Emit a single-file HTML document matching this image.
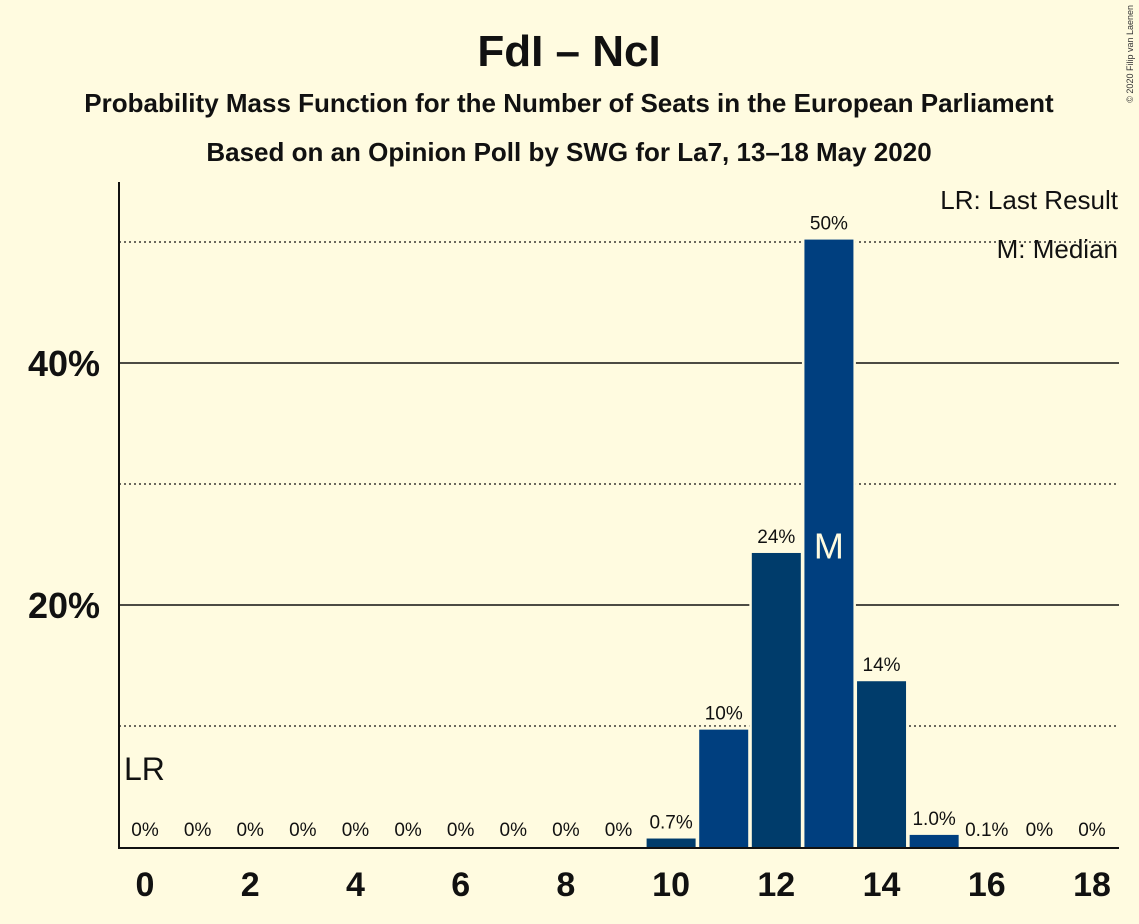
<!DOCTYPE html>
<html><head><meta charset="utf-8"><style>
body{margin:0;background:#fffbe0;}
svg{display:block;font-family:"Liberation Sans",sans-serif;}
</style></head><body>
<svg id="c" width="1139" height="924" viewBox="0 0 1139 924">
<rect width="1139" height="924" fill="#fffbe0"/>
<text x="569" y="66" text-anchor="middle" font-size="44" font-weight="bold" fill="#111">FdI – NcI</text>
<text x="569" y="112" text-anchor="middle" font-size="26" font-weight="bold" fill="#111">Probability Mass Function for the Number of Seats in the European Parliament</text>
<text x="569" y="161" text-anchor="middle" font-size="26" font-weight="bold" fill="#111">Based on an Opinion Poll by SWG for La7, 13–18 May 2020</text>
<text x="1133" y="5" transform="rotate(-90 1133 5)" text-anchor="end" font-size="9" fill="#333">© 2020 Filip van Laenen</text>
<g id="grid"></g>
<g id="bars"></g>
<g id="labels"></g>
<line x1="119" y1="182" x2="119" y2="848" stroke="#111" stroke-width="2"/>
<line x1="118" y1="848" x2="1119" y2="848" stroke="#111" stroke-width="2"/>
<text x="1118" y="209" text-anchor="end" font-size="26" fill="#111">LR: Last Result</text>
<text x="1118" y="258" text-anchor="end" font-size="26" fill="#111">M: Median</text>
</svg>
<script>
const seats=[0,1,2,3,4,5,6,7,8,9,10,11,12,13,14,15,16,17,18];
const probs=[0,0,0,0,0,0,0,0,0,0,0.7,9.7,24.3,50.2,13.7,1.0,0.1,0,0];
const probLabels=["0%","0%","0%","0%","0%","0%","0%","0%","0%","0%","0.7%","10%","24%","50%","14%","1.0%","0.1%","0%","0%"];
const yTicks=[20,40];
const yMinor=[10,30,50];
const xTicks=[0,2,4,6,8,10,12,14,16,18];
const lastResult=0, median=13;
const NS="http://www.w3.org/2000/svg";
const X=s=>145+s*52.61, Y=v=>847-v*12.1;
function mk(t,a,p){const e=document.createElementNS(NS,t);for(const k in a)e.setAttribute(k,a[k]);p.appendChild(e);return e;}
const g=document.getElementById('grid'),b=document.getElementById('bars'),l=document.getElementById('labels');
yMinor.forEach(v=>{const e=mk('line',{x1:119,x2:1119,y1:Y(v),y2:Y(v),stroke:'#111','stroke-width':1.2,'stroke-dasharray':'2,3'},g);

});
yTicks.forEach(v=>{const e=mk('line',{x1:119,x2:1119,y1:Y(v),y2:Y(v),stroke:'#111','stroke-width':1.5},g);


const t=mk('text',{x:100,y:Y(v)+13,'text-anchor':'end','font-size':36,'font-weight':'bold',fill:'#111'},l);t.textContent=v+'%';

});
xTicks.forEach(s=>{const t=mk('text',{x:X(s),y:896,'text-anchor':'middle','font-size':34,'font-weight':'bold',fill:'#111'},l);t.textContent=s;

});
seats.forEach((s,i)=>{const v=probs[i];
if(v>=0.5){const bg=mk('rect',{x:X(s)-27,y:Y(v)-3,width:54,height:847-Y(v)+3,fill:'#fffbe0'},b);


const r=mk('rect',{x:X(s)-24.5,y:Y(v),width:49,height:847-Y(v),fill:s%2?'#003f7f':'#003c6b'},b);

}
const t=mk('text',{x:X(s),y:(v>2?Y(v)-10:Math.min(836,Y(v)-10)),'text-anchor':'middle','font-size':19,fill:'#111'},l);t.textContent=probLabels[i];


if(s===median){const m=mk('text',{x:X(s),y:Y(v/2)+15,'text-anchor':'middle','font-size':36,fill:'#fffbe0'},l);m.textContent='M';

}
if(s===lastResult){const m=mk('text',{x:X(s)-21,y:780,'font-size':32,fill:'#111'},l);m.textContent='LR';

}
});
</script>
</body></html>
